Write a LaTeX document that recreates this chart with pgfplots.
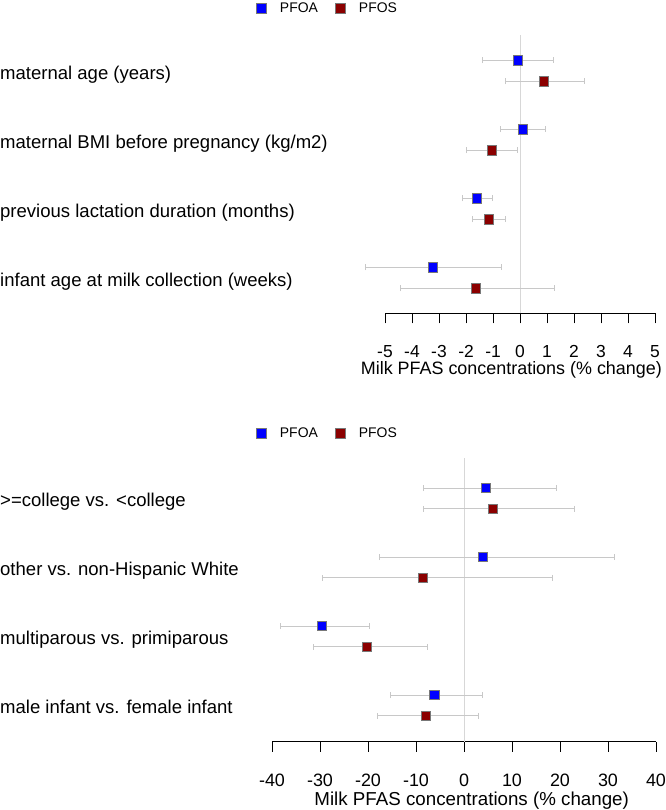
\documentclass[border=0pt]{standalone}
\usepackage{pgfplots}
\pgfplotsset{compat=1.18}
\usepackage{pgfplotstable}
\usepackage{fontspec}
\setmainfont{Liberation Sans}
\definecolor{pfoa}{RGB}{0,0,255}
\definecolor{pfos}{RGB}{139,0,0}
\definecolor{cigray}{RGB}{200,200,200}
\definecolor{zerogray}{RGB}{215,215,215}
\definecolor{markborder}{RGB}{120,120,120}

% top panel: y = position (4 = first category)
\pgfplotstableread{
y x lo hi
4.152 -0.09 -1.38 1.25
3.152 0.12 -0.73 0.95
2.152 -1.59 -2.12 -1.01
1.152 -3.23 -5.74 -0.69
}\topPFOA
\pgfplotstableread{
y x lo hi
3.848 0.89 -0.54 2.38
2.848 -1.04 -1.98 -0.11
1.848 -1.15 -1.75 -0.54
0.848 -1.63 -4.42 1.28
}\topPFOS
\pgfplotstableread{
y x lo hi
4.150 4.58 -8.54 19.3
3.150 3.96 -17.57 31.25
2.150 -29.65 -38.3 -19.6
1.150 -6.18 -15.3 3.82
}\botPFOA
\pgfplotstableread{
y x lo hi
3.850 6.04 -8.54 22.98
2.850 -8.6 -29.5 18.5
1.850 -20.3 -31.4 -7.6
0.850 -7.9 -18.0 3.06
}\botPFOS

\tikzset{lab/.style={anchor=base west,inner sep=0pt,font=\fontsize{18.6}{20}\selectfont}}
\pgfplotsset{
  forest/.style={
    scale only axis,
    clip=false,
    axis x line*=bottom,
    axis y line=none,
    x axis line style={-,black,line width=0.9bp},
    tick align=outside,
    major tick length=10bp,
    xtick style={black,line width=0.9bp},
    /pgf/number format/assume math mode=true,
    xlabel={Milk PFAS concentrations (\% change)},
    legend columns=2,
    legend style={draw=none,fill=none,font=\fontsize{14}{16}\selectfont,anchor=center,
      nodes={inner sep=1bp},
      /tikz/every even column/.append style={column sep=16bp}},
    legend image code/.code={\draw[#1,mark size=5bp] plot coordinates {(0bp,0bp)}; \path[draw=none] (-5bp,0bp) -- (18bp,0bp);},
    error bars/error bar style={cigray,line width=0.9bp},
    error bars/error mark options={cigray,line width=0.9bp,mark size=3bp,rotate=90},
  },
  ptA/.style={only marks,mark=square*,mark size=4.6bp,mark options={fill=pfoa,draw=markborder,line width=0.7bp},
    error bars/.cd,x dir=both,x explicit},
  ptS/.style={only marks,mark=square*,mark size=4.6bp,mark options={fill=pfos,draw=markborder,line width=0.7bp},
    error bars/.cd,x dir=both,x explicit},
}

\begin{document}
\begin{tikzpicture}
\useasboundingbox (0bp,0bp) rectangle (666bp,-810bp);

% ---------- top panel ----------
\begin{axis}[forest,
  at={(385bp,-313.3bp)}, anchor=south west,
  width=270bp, height=278bp,
  xmin=-5, xmax=5, ymin=0.4855, ymax=4.5145,
  xtick={-5,-4,...,5},
  xticklabel style={font=\fontsize{17.5}{19}\selectfont,anchor=base,inner sep=0pt,yshift=-34bp},
  xlabel style={font=\fontsize{18}{20}\selectfont,at={(axis description cs:0.468,0)},anchor=base,inner sep=0pt,yshift=-61bp},
  legend style={at={(-0.215,1.097)}},
]
\addplot[zerogray,line width=0.9bp,forget plot] coordinates {(0,0.4855) (0,4.5145)};
\addplot[ptA] table[x=x,y=y,x error plus expr=\thisrow{hi}-\thisrow{x},x error minus expr=\thisrow{x}-\thisrow{lo}] {\topPFOA};
\addplot[ptS] table[x=x,y=y,x error plus expr=\thisrow{hi}-\thisrow{x},x error minus expr=\thisrow{x}-\thisrow{lo}] {\topPFOS};
\legend{PFOA,PFOS}
\node[lab] at (axis cs:-5,4) [xshift=-385bp,yshift=-8.5bp] {maternal age (years)};
\node[lab] at (axis cs:-5,3) [xshift=-385bp,yshift=-8.5bp] {maternal BMI before pregnancy (kg/m2)};
\node[lab] at (axis cs:-5,2) [xshift=-385bp,yshift=-8.5bp] {previous lactation duration (months)};
\node[lab] at (axis cs:-5,1) [xshift=-385bp,yshift=-8.5bp] {infant age at milk collection (weeks)};
\end{axis}

% ---------- bottom panel ----------
\begin{axis}[forest,
  at={(272bp,-741.7bp)}, anchor=south west,
  width=384bp, height=283.3bp,
  xmin=-40, xmax=40, ymin=0.474, ymax=4.58,
  xtick={-40,-30,...,40},
  xticklabel style={font=\fontsize{18}{20}\selectfont,anchor=base,inner sep=0pt,yshift=-34.3bp},
  xlabel style={font=\fontsize{18.8}{21}\selectfont,at={(axis description cs:0.52,0)},anchor=base,inner sep=0pt,yshift=-63.8bp},
  legend style={at={(0.143,1.088)}},
]
\addplot[zerogray,line width=0.9bp,forget plot] coordinates {(0,0.474) (0,4.58)};
\addplot[ptA] table[x=x,y=y,x error plus expr=\thisrow{hi}-\thisrow{x},x error minus expr=\thisrow{x}-\thisrow{lo}] {\botPFOA};
\addplot[ptS] table[x=x,y=y,x error plus expr=\thisrow{hi}-\thisrow{x},x error minus expr=\thisrow{x}-\thisrow{lo}] {\botPFOS};
\legend{PFOA,PFOS}
\node[lab] at (axis cs:-40,4) [xshift=-272bp,yshift=-8bp] {>=college vs. <college};
\node[lab] at (axis cs:-40,3) [xshift=-272bp,yshift=-8bp] {other vs. non-Hispanic White};
\node[lab] at (axis cs:-40,2) [xshift=-272bp,yshift=-8bp] {multiparous vs. primiparous};
\node[lab] at (axis cs:-40,1) [xshift=-272bp,yshift=-8bp] {male infant vs. female infant};
\end{axis}
\end{tikzpicture}
\end{document}
